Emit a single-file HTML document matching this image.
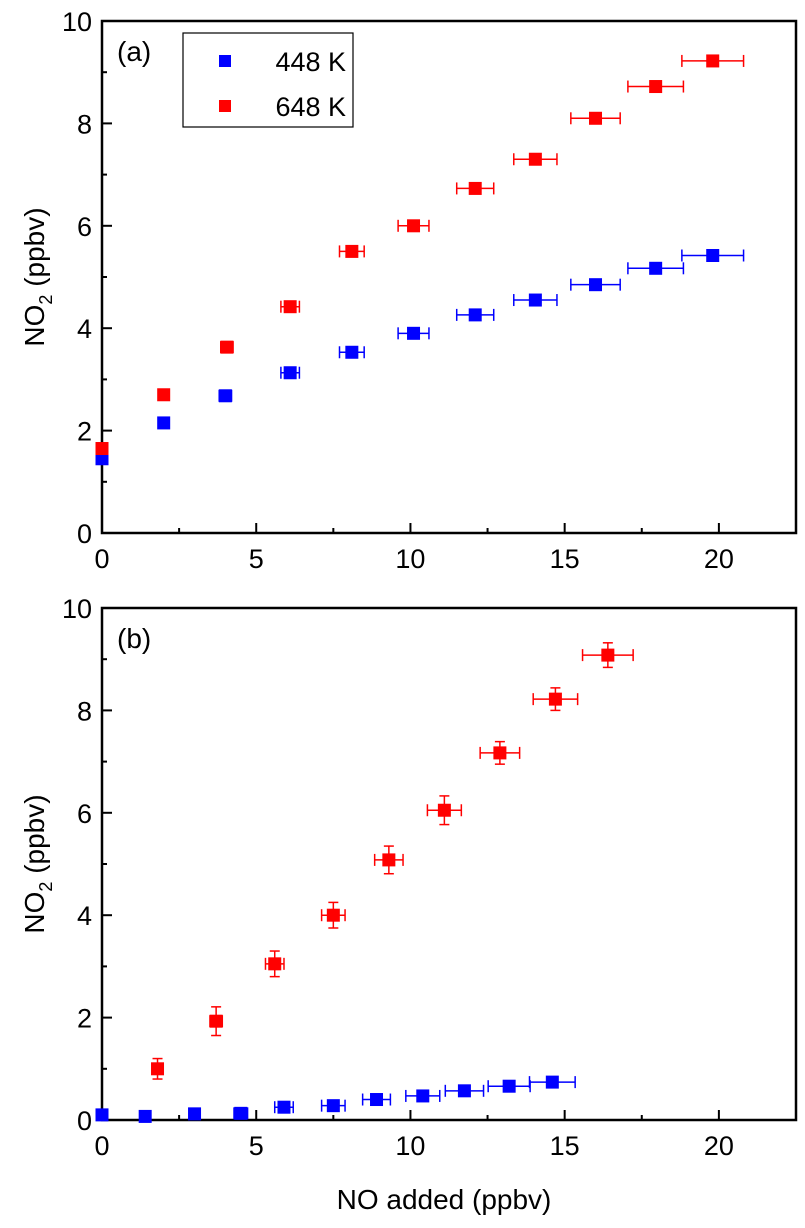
<!DOCTYPE html>
<html><head><meta charset="utf-8"><style>
body{margin:0;background:#fff}
svg text{font-family:"Liberation Sans",Arial,sans-serif;fill:#000}
</style></head><body>
<svg id="chart" width="805" height="1223" xmlns="http://www.w3.org/2000/svg"></svg>
<script>
// Panel (a) data
const aBlueX=[0,2,4,6.1,8.1,10.1,12.1,14.05,16,17.95,19.8];
const aBlueY=[1.45,2.15,2.68,3.13,3.53,3.9,4.26,4.55,4.85,5.17,5.42];
const aBlueXe=[0.05,0.12,0.2,0.3,0.4,0.5,0.6,0.7,0.8,0.9,1.0];
const aRedX=[0,2,4.05,6.1,8.1,10.1,12.1,14.05,16,17.95,19.8];
const aRedY=[1.65,2.7,3.63,4.42,5.5,6.0,6.73,7.3,8.1,8.72,9.22];
const aRedXe=[0.05,0.12,0.2,0.3,0.4,0.5,0.6,0.7,0.8,0.9,1.0];
// Panel (b) data
const bBlueX=[0,1.4,3,4.5,5.9,7.5,8.9,10.4,11.75,13.2,14.6];
const bBlueY=[0.1,0.07,0.12,0.13,0.25,0.28,0.4,0.47,0.57,0.66,0.74];
const bBlueXe=[0.05,0.08,0.15,0.22,0.3,0.38,0.45,0.55,0.62,0.68,0.74];
const bRedX=[1.8,3.7,5.6,7.5,9.3,11.1,12.9,14.7,16.4];
const bRedY=[1.0,1.93,3.05,4.0,5.08,6.05,7.17,8.22,9.08];
const bRedXe=[0.1,0.2,0.3,0.38,0.46,0.55,0.64,0.72,0.82];
const bRedYe=[0.2,0.28,0.25,0.25,0.27,0.28,0.22,0.22,0.24];
const xTicks=[0,5,10,15,20];
const yTicks=[0,2,4,6,8,10];

const svg=document.getElementById('chart');
const NS='http://www.w3.org/2000/svg';
function mk(tag,attrs,parent){const e=document.createElementNS(NS,tag);for(const k in attrs)e.setAttribute(k,attrs[k]);(parent||svg).appendChild(e);return e;}
const L=102,R=796,XMAX=22.5;
const sx=v=>L+(R-L)*v/XMAX;

function panel(name,top,bottom,label,series,xlab){
  const g=mk('g',{});
  
  
  const sy=v=>bottom-(bottom-top)*v/10;
  const box=mk('rect',{x:L,y:top,width:R-L,height:bottom-top,fill:'none',stroke:'#000','stroke-width':2.5},g);
  
  
  for(let v=0;v<=XMAX;v+=2.5){
    const major=v%5===0;
    mk('line',{x1:sx(v),x2:sx(v),y1:bottom,y2:bottom-(major?10:5),stroke:'#000','stroke-width':2},g);
  }
  xTicks.forEach(v=>{
    const t=mk('text',{x:sx(v),y:bottom+35,'font-size':27,'text-anchor':'middle'},g);
    t.textContent=v;
    
    
  });
  for(let v=0;v<=10;v+=1){
    const major=v%2===0;
    mk('line',{x1:L,x2:L+(major?10:5),y1:sy(v),y2:sy(v),stroke:'#000','stroke-width':2},g);
  }
  yTicks.forEach(v=>{
    const t=mk('text',{x:L-10,y:sy(v)+10,'font-size':27,'text-anchor':'end'},g);
    t.textContent=v;
    
    
  });
  const yt=mk('text',{transform:`translate(44,${(top+bottom)/2}) rotate(-90)`,'font-size':28,'text-anchor':'middle'},g);
  yt.innerHTML='NO<tspan font-size="18" dy="8">2</tspan><tspan dy="-8"> (ppbv)</tspan>';
  
  
  const pl=mk('text',{x:117,y:top+40,'font-size':28},g);
  pl.textContent=label;
  
  
  series.forEach(s=>{
    s.x.forEach((xv,i)=>{
      const cx=sx(xv),cy=sy(s.y[i]);
      const xe=s.xe[i]*(R-L)/XMAX;
      if(xe>3){
        mk('line',{x1:cx-xe,x2:cx+xe,y1:cy,y2:cy,stroke:s.c,'stroke-width':1.5},g);
        mk('line',{x1:cx-xe,x2:cx-xe,y1:cy-6,y2:cy+6,stroke:s.c,'stroke-width':1.5},g);
        mk('line',{x1:cx+xe,x2:cx+xe,y1:cy-6,y2:cy+6,stroke:s.c,'stroke-width':1.5},g);
      }
      if(s.ye){
        const ye=s.ye[i]*(bottom-top)/10;
        mk('line',{x1:cx,x2:cx,y1:cy-ye,y2:cy+ye,stroke:s.c,'stroke-width':1.5},g);
        mk('line',{x1:cx-5,x2:cx+5,y1:cy-ye,y2:cy-ye,stroke:s.c,'stroke-width':1.5},g);
        mk('line',{x1:cx-5,x2:cx+5,y1:cy+ye,y2:cy+ye,stroke:s.c,'stroke-width':1.5},g);
      }
      const m=mk('rect',{x:cx-6.5,y:cy-6.5,width:13,height:13,fill:s.c},g);
      
      
    });
  });
  if(xlab){
    const xt=mk('text',{x:(L+R)/2-5,y:1209,'font-size':28,'text-anchor':'middle'},g);
    xt.textContent='NO added (ppbv)';
    
    
  }
}
panel('panel-a',21,533,'(a)',[
  {x:aBlueX,y:aBlueY,xe:aBlueXe,c:'#0000ff',n:'448k'},
  {x:aRedX,y:aRedY,xe:aRedXe,c:'#ff0000',n:'648k'}],false);
panel('panel-b',608,1120,'(b)',[
  {x:bBlueX,y:bBlueY,xe:bBlueXe,c:'#0000ff',n:'448k'},
  {x:bRedX,y:bRedY,xe:bRedXe,ye:bRedYe,c:'#ff0000',n:'648k'}],true);

// legend
const lg=mk('g',{});


mk('rect',{x:183,y:33,width:170,height:94,fill:'#fff',stroke:'#000','stroke-width':1.2},lg);
[['448 K','#0000ff',61],['648 K','#ff0000',106]].forEach(([t,c,y])=>{
  const e=mk('g',{},lg);
  
  
  mk('rect',{x:219,y:y-6,width:12,height:12,fill:c},e);
  const tx=mk('text',{x:346,y:y+10,'font-size':27,'text-anchor':'end'},e);
  tx.textContent=t;
});
</script>
</body></html>
